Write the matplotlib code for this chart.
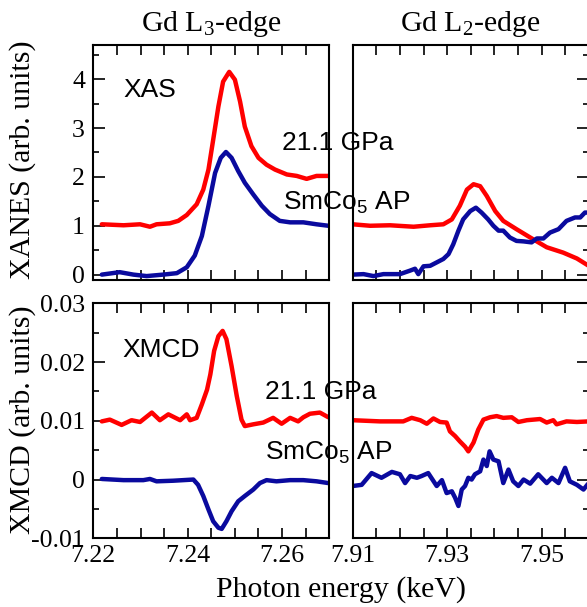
import numpy as np
import matplotlib
matplotlib.use("Agg")
import matplotlib.pyplot as plt
from matplotlib.ticker import MultipleLocator, FixedLocator, FuncFormatter

plt.rcParams['font.family'] = ['Liberation Serif', 'DejaVu Serif']
plt.rcParams['axes.unicode_minus'] = False

# ---------------- data ----------------
# XAS, Gd L3-edge
xas_l3_hp_x = [7.2218, 7.2264, 7.2299, 7.2320, 7.2334, 7.2362, 7.2380, 7.2398, 7.2419, 7.2433,
               7.2444, 7.2454, 7.2465, 7.2475, 7.2488, 7.2500, 7.2511, 7.2521, 7.2535, 7.2550,
               7.2567, 7.2585, 7.2610, 7.2631, 7.2652, 7.2673, 7.2698]
xas_l3_hp_y = [1.03, 1.01, 1.03, 0.98, 1.03, 1.05, 1.10, 1.22, 1.44, 1.74,
               2.15, 2.76, 3.44, 3.95, 4.15, 3.99, 3.54, 3.03, 2.63, 2.39,
               2.25, 2.15, 2.05, 2.02, 1.96, 2.02, 2.02]
xas_l3_ap_x = [7.2218, 7.2256, 7.2285, 7.2313, 7.2348, 7.2377, 7.2398, 7.2415, 7.2430, 7.2444,
               7.2458, 7.2470, 7.2481, 7.2493, 7.2507, 7.2521, 7.2539, 7.2557, 7.2574, 7.2595,
               7.2617, 7.2645, 7.2673, 7.2698]
xas_l3_ap_y = [0.00, 0.05, 0.00, -0.03, 0.00, 0.03, 0.15, 0.39, 0.79, 1.41,
               2.08, 2.39, 2.51, 2.39, 2.12, 1.88, 1.64, 1.41, 1.24, 1.10,
               1.07, 1.07, 1.03, 1.00]

# XAS, Gd L2-edge
xas_l2_hp_x = [7.9100, 7.9137, 7.9179, 7.9229, 7.9264, 7.9292, 7.9310, 7.9327, 7.9342, 7.9356,
               7.9370, 7.9384, 7.9402, 7.9419, 7.9447, 7.9476, 7.9511, 7.9546, 7.9575, 7.9600]
xas_l2_hp_y = [1.03, 1.00, 1.01, 0.98, 1.01, 1.03, 1.13, 1.41, 1.74, 1.85,
               1.81, 1.61, 1.30, 1.10, 0.93, 0.76, 0.56, 0.45, 0.33, 0.18]
xas_l2_ap_x = [7.9100, 7.9123, 7.9144, 7.9165, 7.9200, 7.9221, 7.9232, 7.9239, 7.9250, 7.9264,
               7.9278, 7.9292, 7.9303, 7.9313, 7.9324, 7.9334, 7.9349, 7.9361, 7.9373, 7.9387,
               7.9398, 7.9409, 7.9419, 7.9433, 7.9447, 7.9462, 7.9479, 7.9490, 7.9504, 7.9518,
               7.9536, 7.9553, 7.9571, 7.9582, 7.9592, 7.9600]
xas_l2_ap_y = [0.00, 0.01, -0.03, 0.01, 0.01, 0.08, 0.12, 0.01, 0.17, 0.18,
               0.25, 0.32, 0.42, 0.62, 0.90, 1.13, 1.30, 1.37, 1.27, 1.13,
               1.00, 0.90, 0.90, 0.76, 0.69, 0.68, 0.66, 0.74, 0.74, 0.86,
               0.93, 1.10, 1.17, 1.17, 1.27, 1.27]

# XMCD, Gd L3-edge
xmcd_l3_hp_x = [7.2218, 7.2235, 7.2260, 7.2281, 7.2299, 7.2324, 7.2341, 7.2359, 7.2384, 7.2398,
                7.2405, 7.2419, 7.2430, 7.2441, 7.2448, 7.2456, 7.2465, 7.2474, 7.2482, 7.2493,
                7.2504, 7.2514, 7.2521, 7.2539, 7.2560, 7.2581, 7.2599, 7.2617, 7.2634, 7.2645,
                7.2659, 7.2680, 7.2698]
xmcd_l3_hp_y = [0.0099, 0.0102, 0.0093, 0.0101, 0.0098, 0.0114, 0.0101, 0.0111, 0.0101, 0.0111,
                0.0101, 0.0105, 0.0128, 0.0153, 0.0179, 0.0219, 0.0244, 0.0253, 0.0239, 0.0193,
                0.0142, 0.0102, 0.0091, 0.0094, 0.0097, 0.0105, 0.0095, 0.0105, 0.0099, 0.0106,
                0.0112, 0.0114, 0.0106]
xmcd_l3_ap_x = [7.2218, 7.2264, 7.2306, 7.2320, 7.2334, 7.2369, 7.2412, 7.2422, 7.2433, 7.2444,
                7.2454, 7.2465, 7.2472, 7.2482, 7.2493, 7.2507, 7.2521, 7.2539, 7.2553, 7.2567,
                7.2588, 7.2617, 7.2645, 7.2673, 7.2698]
xmcd_l3_ap_y = [0.0001, -0.0001, -0.0001, 0.0001, -0.0003, -0.0002, 0.0000, -0.0009, -0.0028, -0.0051,
                -0.0071, -0.0082, -0.0084, -0.0071, -0.0054, -0.0037, -0.0028, -0.0017, -0.0006, -0.0001,
                -0.0003, -0.0001, -0.0001, -0.0003, -0.0006]

# XMCD, Gd L2-edge
xmcd_l2_hp_x = [7.9100, 7.9158, 7.9207, 7.9225, 7.9243, 7.9257, 7.9271, 7.9285, 7.9299, 7.9306,
                7.9317, 7.9327, 7.9338, 7.9345, 7.9356, 7.9366, 7.9377, 7.9391, 7.9405, 7.9419,
                7.9437, 7.9451, 7.9469, 7.9497, 7.9511, 7.9525, 7.9532, 7.9553, 7.9575, 7.9600]
xmcd_l2_hp_y = [0.0101, 0.0099, 0.0099, 0.0105, 0.0101, 0.0095, 0.0104, 0.0098, 0.0097, 0.0082,
                0.0074, 0.0065, 0.0056, 0.0048, 0.0063, 0.0085, 0.0102, 0.0106, 0.0108, 0.0105,
                0.0106, 0.0098, 0.0101, 0.0103, 0.0097, 0.0101, 0.0094, 0.0099, 0.0098, 0.0099]
xmcd_l2_ap_x = [7.9100, 7.9119, 7.9140, 7.9161, 7.9183, 7.9200, 7.9211, 7.9222, 7.9236, 7.9246,
                7.9260, 7.9278, 7.9289, 7.9299, 7.9310, 7.9317, 7.9324, 7.9331, 7.9338, 7.9345,
                7.9352, 7.9359, 7.9370, 7.9377, 7.9384, 7.9390, 7.9398, 7.9409, 7.9419, 7.9430,
                7.9440, 7.9451, 7.9462, 7.9476, 7.9493, 7.9511, 7.9522, 7.9536, 7.9550, 7.9560,
                7.9575, 7.9589, 7.9600]
xmcd_l2_ap_y = [-0.0011, -0.0009, 0.0011, 0.0003, 0.0013, 0.0009, -0.0006, 0.0006, 0.0003, 0.0006,
                0.0011, -0.0011, -0.0001, -0.0023, -0.0020, -0.0031, -0.0045, -0.0017, -0.0011, 0.0003,
                0.0000, 0.0009, 0.0014, 0.0034, 0.0023, 0.0048, 0.0034, 0.0031, -0.0006, 0.0017,
                -0.0003, -0.0011, 0.0000, -0.0007, 0.0009, -0.0006, 0.0003, -0.0006, 0.0020, -0.0003,
                -0.0009, -0.0017, -0.0006]

# axis ranges and tick labels
xlim_l3 = (7.22, 7.27)
xlim_l2 = (7.91, 7.96)
xticklabels_l3 = ["7.22", "7.24", "7.26"]
xticklabels_l2 = ["7.91", "7.93", "7.95"]
ylim_xas = (-0.1, 4.7)
ylim_xmcd = (-0.01, 0.03)
yticklabels_xas = ["0", "1", "2", "3", "4"]
yticklabels_xmcd = ["-0.01", "0", "0.01", "0.02", "0.03"]

titles = ["Gd L$\\mathregular{_3}$-edge", "Gd L$\\mathregular{_2}$-edge"]
label_hp = "21.1 GPa"
label_ap = "SmCo$\\mathregular{_5}$ AP"

RED = "#ff0000"
BLUE = "#0a0a9e"
LW = 3.2

# ---------------- figure ----------------
W, H = 587, 607
fig = plt.figure(figsize=(W / 100, H / 100), dpi=100)


def rect(x0, x1, ytop, ybot):
    return [x0 / W, (H - ybot) / H, (x1 - x0) / W, (ybot - ytop) / H]


ax_tl = fig.add_axes(rect(93.3, 329.3, 45, 279.5))
ax_tr = fig.add_axes(rect(352.7, 588.7, 45, 279.5))
ax_bl = fig.add_axes(rect(93.3, 329.3, 303.3, 538.3))
ax_br = fig.add_axes(rect(352.7, 588.7, 303.3, 538.3))

for ax, (xr, yr, xb, yb) in [
        (ax_tl, (xas_l3_hp_x, xas_l3_hp_y, xas_l3_ap_x, xas_l3_ap_y)),
        (ax_tr, (xas_l2_hp_x, xas_l2_hp_y, xas_l2_ap_x, xas_l2_ap_y)),
        (ax_bl, (xmcd_l3_hp_x, xmcd_l3_hp_y, xmcd_l3_ap_x, xmcd_l3_ap_y)),
        (ax_br, (xmcd_l2_hp_x, xmcd_l2_hp_y, xmcd_l2_ap_x, xmcd_l2_ap_y))]:
    ax.plot(xr, yr, color=RED, lw=LW, solid_joinstyle='round', solid_capstyle='round')
    ax.plot(xb, yb, color=BLUE, lw=LW, solid_joinstyle='round', solid_capstyle='round')

TICKFS = 18.5


def setup_x(ax, xlim, labels, show):
    ax.set_xlim(*xlim)
    ticks = np.round(np.arange(xlim[0], xlim[1] + 1e-9, 0.005), 3)
    ax.xaxis.set_major_locator(FixedLocator(ticks))
    labmap = {round(float(s), 3): s for s in labels}

    def fmt(v, pos):
        return labmap.get(round(v, 3), "") if show else ""
    ax.xaxis.set_major_formatter(FuncFormatter(fmt))
    ax.tick_params(axis='x', which='major', direction='in', top=True, bottom=True,
                   length=7.5, width=1.2, labelsize=TICKFS, pad=5)


def setup_y(ax, ylim, major, minor, labels, side):
    ax.set_ylim(*ylim)
    ax.yaxis.set_major_locator(MultipleLocator(major))
    ax.yaxis.set_minor_locator(MultipleLocator(minor))
    labmap = {round(float(s), 4): s for s in labels}

    def fmt(v, pos):
        return labmap.get(round(v, 4), "")
    ax.yaxis.set_major_formatter(FuncFormatter(fmt))
    left = side == 'left'
    ax.tick_params(axis='y', which='both', direction='in', left=left, right=not left,
                   labelleft=left, labelright=False, width=1.2, labelsize=TICKFS, pad=6)
    ax.tick_params(axis='y', which='major', length=8.5)
    ax.tick_params(axis='y', which='minor', length=4.5)


for ax in (ax_tl, ax_tr, ax_bl, ax_br):
    for sp in ax.spines.values():
        sp.set_linewidth(1.5)

setup_x(ax_tl, xlim_l3, xticklabels_l3, False)
setup_x(ax_tr, xlim_l2, xticklabels_l2, False)
setup_x(ax_bl, xlim_l3, xticklabels_l3, True)
setup_x(ax_br, xlim_l2, xticklabels_l2, True)
setup_y(ax_tl, ylim_xas, 1, 0.5, yticklabels_xas, 'left')
setup_y(ax_tr, ylim_xas, 1, 0.5, yticklabels_xas, 'right')
setup_y(ax_bl, ylim_xmcd, 0.01, 0.005, yticklabels_xmcd, 'left')
setup_y(ax_br, ylim_xmcd, 0.01, 0.005, yticklabels_xmcd, 'right')

ax_tl.set_title(titles[0], fontsize=21.5, pad=10)
ax_tr.set_title(titles[1], fontsize=21.5, pad=10)

LABFS = 21.5
fig.text(23 / W, 1 - 160 / H, "XANES (arb. units)", rotation=90, ha='center', va='center',
         fontsize=LABFS)
fig.text(23 / W, 1 - 420 / H, "XMCD (arb. units)", rotation=90, ha='center', va='center',
         fontsize=LABFS)
fig.text(341 / W, 1 - 597 / H, "Photon energy (keV)", ha='center', va='baseline',
         fontsize=LABFS)

SANS = ['Liberation Sans', 'DejaVu Sans']
SFS = 19


def ptext(px, py, s):
    fig.text(px / W, 1 - py / H, s, ha='left', va='baseline', fontsize=SFS, family=SANS)


ptext(123, 97, "XAS")
ptext(282, 150, label_hp)
ptext(283, 210, label_ap)
ptext(122, 357, "XMCD")
ptext(265, 399, label_hp)
ptext(265, 460, label_ap)

fig.savefig("out.png", dpi=100)
